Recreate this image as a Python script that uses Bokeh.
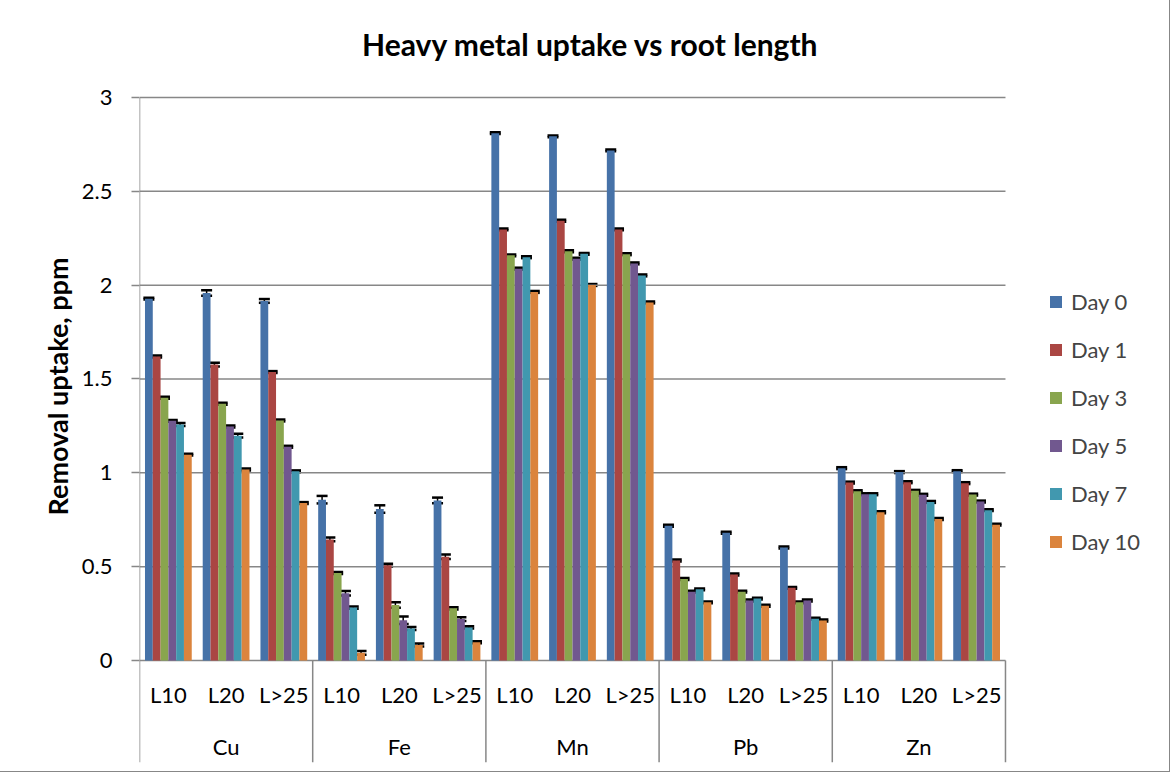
from bokeh.plotting import figure
from bokeh.models import (ColumnDataSource, Range1d, FixedTicker, NumeralTickFormatter,
                          Whisker, TeeHead, Legend, LegendItem, Title)
from bokeh.transform import dodge
from bokeh.core.properties import value
from bokeh.embed import file_html
from bokeh.resources import INLINE

# ---------------- data ----------------
metals = ["Cu", "Fe", "Mn", "Pb", "Zn"]
lengths = ["L10", "L20", "L>25"]
days = ["Day 0", "Day 1", "Day 3", "Day 5", "Day 7", "Day 10"]
yticks = [0, 0.5, 1, 1.5, 2, 2.5, 3]
title_text = "Heavy metal uptake vs root length"
ylabel_text = "Removal uptake, ppm"

# values ordered Cu(L10,L20,L>25), Fe(...), Mn(...), Pb(...), Zn(...)
day0 = [1.928, 1.958, 1.916, 0.857, 0.807, 0.853, 2.810, 2.793, 2.718, 0.718, 0.681, 0.602, 1.025, 1.004, 1.009]
day1 = [1.620, 1.577, 1.537, 0.645, 0.507, 0.553, 2.297, 2.343, 2.297, 0.533, 0.458, 0.387, 0.948, 0.950, 0.945]
day3 = [1.400, 1.368, 1.279, 0.466, 0.296, 0.278, 2.159, 2.181, 2.165, 0.434, 0.367, 0.310, 0.902, 0.904, 0.884]
day5 = [1.277, 1.247, 1.139, 0.359, 0.215, 0.221, 2.088, 2.141, 2.116, 0.367, 0.320, 0.320, 0.886, 0.883, 0.847]
day7 = [1.257, 1.198, 1.008, 0.282, 0.170, 0.176, 2.149, 2.167, 2.052, 0.379, 0.330, 0.223, 0.886, 0.845, 0.801]
day10 = [1.097, 1.018, 0.839, 0.041, 0.083, 0.097, 1.964, 2.001, 1.908, 0.310, 0.292, 0.213, 0.790, 0.754, 0.724]

err0 = [0.005, 0.015, 0.010, 0.020, 0.020, 0.015, 0.005, 0.005, 0.005, 0.005, 0.005, 0.005, 0.005, 0.005, 0.005]
err1 = [0.005, 0.010, 0.005, 0.010, 0.008, 0.012, 0.005, 0.005, 0.005, 0.005, 0.005, 0.005, 0.005, 0.005, 0.005]
err3 = [0.005, 0.005, 0.005, 0.005, 0.015, 0.006, 0.005, 0.005, 0.005, 0.005, 0.005, 0.005, 0.005, 0.005, 0.005]
err5 = [0.005, 0.005, 0.005, 0.012, 0.020, 0.010, 0.005, 0.005, 0.005, 0.005, 0.005, 0.005, 0.005, 0.005, 0.005]
err7 = [0.008, 0.010, 0.005, 0.006, 0.008, 0.006, 0.005, 0.005, 0.005, 0.005, 0.005, 0.005, 0.005, 0.005, 0.005]
err10 = [0.005, 0.005, 0.005, 0.010, 0.008, 0.005, 0.005, 0.005, 0.005, 0.005, 0.005, 0.005, 0.005, 0.005, 0.005]

colors = ["#4672A8", "#AA4643", "#89A54E", "#71588F", "#4198AF", "#DB843D"]

series = [day0, day1, day3, day5, day7, day10]
errors = [err0, err1, err3, err5, err7, err10]

# ---------------- layout constants ----------------
FONT = "Lato"
GRID = "#878787"
Y_MIN = -0.5435          # frame extends below zero to host the category labels
Y_MAX = 3.5168           # ... and above the axis top to host the title
X_MAX = 17.341           # ... and to the right to host the legend
Y_LEN_LABEL = -0.181
Y_METAL_LABEL = -0.458
TITLE_X, TITLE_Y = 7.312, 3.284
W = 0.135

factors = [(m, l) for m in metals for l in lengths]
n = len(factors)
xi = list(range(n))

data = dict(xi=xi)
for i, (s, e) in enumerate(zip(series, errors)):
    data[f"d{i}"] = s
    data[f"u{i}"] = [v + er for v, er in zip(s, e)]
    data[f"l{i}"] = [v - er for v, er in zip(s, e)]
src = ColumnDataSource(data)

p = figure(x_range=Range1d(-0.5, X_MAX), y_range=Range1d(Y_MIN, Y_MAX), title=None,
           width=1169, height=771, output_backend="svg", toolbar_location=None,
           min_border_left=139, min_border_top=0, min_border_right=0, min_border_bottom=9)
p.styles = {"outline": "1px solid #878787"}
p.outline_line_color = None
p.background_fill_color = "white"
p.border_fill_color = "white"
p.xaxis.visible = False
p.xgrid.visible = False
p.ygrid.visible = False

p.yaxis.ticker = FixedTicker(ticks=yticks)
p.yaxis.formatter = NumeralTickFormatter(format="0.[0]")
p.yaxis.major_tick_out = 8
p.yaxis.major_tick_in = 0
p.yaxis.minor_tick_out = 0
p.yaxis.minor_tick_in = 0
p.yaxis.axis_line_color = None
p.yaxis.major_tick_line_color = GRID
p.yaxis.major_tick_line_width = 1.5
p.yaxis.major_label_text_font = FONT
p.yaxis.major_label_text_font_size = "22px"
p.yaxis.major_label_text_color = "black"
p.yaxis.major_label_standoff = 19

p.add_layout(Title(text=ylabel_text, align="right", offset=257,
                   text_font=FONT, text_font_size="27px", text_font_style="bold",
                   text_color="black"), "left")

# horizontal gridlines over the category span only
gsrc = ColumnDataSource(dict(y=yticks))
p.segment(x0=-0.5, x1=n - 0.5, y0="y", y1="y", source=gsrc, line_color=GRID, line_width=1.5)

# vertical axis line and the metal-group separators
bounds = [k * len(lengths) - 0.5 for k in range(len(metals) + 1)]
tops = [yticks[-1]] + [0] * len(metals)
ssrc = ColumnDataSource(dict(x=bounds, top=tops))
p.segment(x0="x", x1="x", y0="top", y1=Y_MIN, source=ssrc, line_color=GRID, line_width=1.5)

items = []
for i, d in enumerate(days):
    off = (i - 2.5) * W
    r = p.vbar(x=dodge("xi", off), top=f"d{i}", width=W, source=src,
               fill_color=colors[i], line_color=None)
    items.append(LegendItem(label=d, renderers=[r]))
    wk = Whisker(source=src, base=dodge("xi", off), upper=f"u{i}", lower=f"l{i}",
                 line_color="black", line_width=1.5,
                 upper_head=TeeHead(size=11, line_width=2.5, line_color="black"),
                 lower_head=TeeHead(size=11, line_width=2.5, line_color="black"))
    p.add_layout(wk)

# category labels
lsrc = ColumnDataSource(dict(x=xi, t=[l for _, l in factors]))
p.text(x="x", y=Y_LEN_LABEL, text="t", source=lsrc, text_align="center", text_baseline="middle",
       text_font=value(FONT), text_font_size="22px", text_color="black")
msrc = ColumnDataSource(dict(x=[k * len(lengths) + (len(lengths) - 1) / 2 for k in range(len(metals))],
                             t=metals))
p.text(x="x", y=Y_METAL_LABEL, text="t", source=msrc, text_align="center", text_baseline="middle",
       text_font=value(FONT), text_font_size="22px", text_color="black")

# chart title
p.text(x=[TITLE_X], y=[TITLE_Y], text=[title_text], text_align="center", text_baseline="alphabetic",
       text_font=value(FONT), text_font_size="30px", text_font_style="bold", text_color="black")

legend = Legend(items=items, location=(909, 207), border_line_color=None,
                background_fill_alpha=0, glyph_width=15, glyph_height=15, label_standoff=8,
                label_text_font=FONT, label_text_font_size="22px", label_height=28,
                spacing=20, margin=0, padding=0)
p.add_layout(legend)

open("out.html", "w").write(file_html(p, INLINE))
